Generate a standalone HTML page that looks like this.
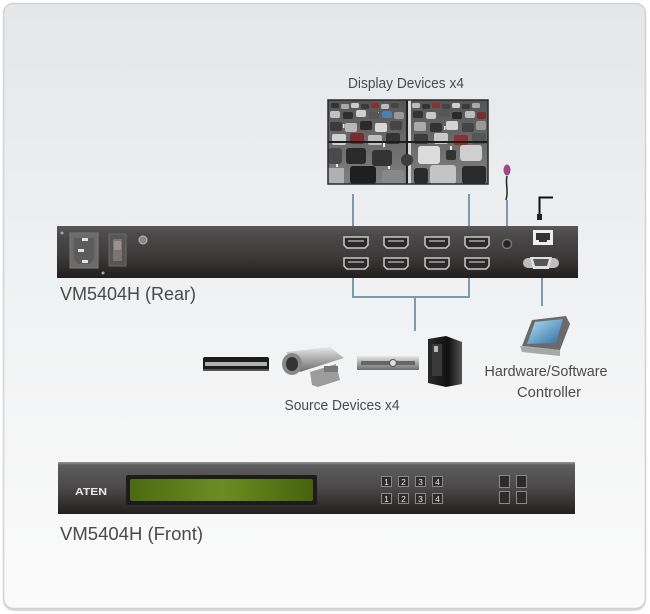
<!DOCTYPE html>
<html><head><meta charset="utf-8">
<style>
html,body{margin:0;padding:0;background:#fff;}
svg{display:block;}
text{font-family:"Liberation Sans","DejaVu Sans",sans-serif;fill:#4a4a4a;}
</style></head>
<body>
<svg width="650" height="614" viewBox="0 0 650 614" xmlns="http://www.w3.org/2000/svg">
<defs>
<linearGradient id="bg" x1="0" y1="0" x2="0" y2="1">
<stop offset="0" stop-color="#e5e6e8"/><stop offset="0.5" stop-color="#f1f2f3"/><stop offset="1" stop-color="#fbfbfb"/>
</linearGradient>
<linearGradient id="rear" x1="0" y1="0" x2="0" y2="1">
<stop offset="0" stop-color="#5a5959"/><stop offset="0.15" stop-color="#4c4a4a"/><stop offset="0.6" stop-color="#3c3939"/><stop offset="1" stop-color="#221e1e"/>
</linearGradient>
<linearGradient id="front" x1="0" y1="0" x2="0" y2="1">
<stop offset="0" stop-color="#9a9a9a"/><stop offset="0.06" stop-color="#5e5d5d"/><stop offset="0.5" stop-color="#4a4848"/><stop offset="1" stop-color="#231f1f"/>
</linearGradient>
<linearGradient id="lcd" x1="0" y1="0" x2="1" y2="0">
<stop offset="0" stop-color="#4c6a10"/><stop offset="0.5" stop-color="#6a8d22"/><stop offset="1" stop-color="#46630c"/>
</linearGradient>
<linearGradient id="silver" x1="0" y1="0" x2="0" y2="1">
<stop offset="0" stop-color="#e8e8e8"/><stop offset="0.5" stop-color="#a9a9a9"/><stop offset="1" stop-color="#6f6f6f"/>
</linearGradient>
<linearGradient id="road" x1="0" y1="0" x2="0" y2="1">
<stop offset="0" stop-color="#555"/><stop offset="0.5" stop-color="#6a6a6a"/><stop offset="1" stop-color="#808080"/>
</linearGradient>
<linearGradient id="pc" x1="0" y1="0" x2="1" y2="0">
<stop offset="0" stop-color="#2a2a2a"/><stop offset="0.6" stop-color="#111"/><stop offset="1" stop-color="#555"/>
</linearGradient>
<linearGradient id="scr" x1="0" y1="0" x2="1" y2="1">
<stop offset="0" stop-color="#b8e0f5"/><stop offset="1" stop-color="#2a6fa0"/>
</linearGradient>
</defs>

<!-- frame -->
<rect x="3" y="4" width="643" height="607" rx="11" fill="#d9d9d9"/>
<rect x="3.5" y="3.5" width="642" height="605" rx="10" fill="url(#bg)" stroke="#d2d2d2" stroke-width="1.5"/>

<!-- Display devices -->
<text x="406" y="88" font-size="14.5" text-anchor="middle" textLength="116" lengthAdjust="spacingAndGlyphs">Display Devices x4</text>
<g>
<rect x="328" y="100" width="160" height="84" fill="url(#road)"/>
<g fill="#e8e8e8">
<rect x="345" y="112" width="1" height="3"/><rect x="343" y="124" width="1.5" height="4"/><rect x="340" y="140" width="2" height="5"/><rect x="336" y="160" width="2" height="7"/>
<rect x="378" y="112" width="1" height="3"/><rect x="380" y="125" width="1.5" height="4"/><rect x="383" y="142" width="2" height="5"/><rect x="388" y="162" width="2" height="7"/>
<rect x="440" y="112" width="1" height="3"/><rect x="444" y="126" width="1.5" height="4"/><rect x="450" y="146" width="2" height="5"/>
</g>
<g>
<rect x="331" y="103" width="8" height="5" rx="1.5" fill="#333"/><rect x="341" y="104" width="8" height="5" rx="1.5" fill="#aaa"/><rect x="351" y="103" width="8" height="5" rx="1.5" fill="#ccc"/><rect x="361" y="104" width="8" height="5" rx="1.5" fill="#3a3a3a"/><rect x="371" y="103" width="8" height="5" rx="1.5" fill="#8a2e2e"/><rect x="381" y="104" width="8" height="5" rx="1.5" fill="#bbb"/><rect x="391" y="103" width="8" height="5" rx="1.5" fill="#444"/>
<rect x="330" y="111" width="10" height="7" rx="2" fill="#c2c2c2"/><rect x="343" y="112" width="10" height="7" rx="2" fill="#2e2e2e"/><rect x="356" y="110" width="10" height="7" rx="2" fill="#d0d0d0"/><rect x="369" y="112" width="10" height="7" rx="2" fill="#555"/><rect x="382" y="111" width="10" height="7" rx="2" fill="#4a7fb0"/><rect x="394" y="112" width="10" height="7" rx="2" fill="#999"/>
<rect x="330" y="122" width="12" height="9" rx="2" fill="#3a3a3a"/><rect x="345" y="123" width="12" height="9" rx="2" fill="#b8b8b8"/><rect x="360" y="121" width="12" height="9" rx="2" fill="#2a2a2a"/><rect x="375" y="123" width="12" height="9" rx="2" fill="#d8d8d8"/><rect x="390" y="121" width="12" height="9" rx="2" fill="#444"/>
<rect x="332" y="134" width="14" height="11" rx="2" fill="#d0d0d0"/><rect x="350" y="133" width="14" height="11" rx="2" fill="#7a2c2c"/><rect x="368" y="135" width="14" height="10" rx="2" fill="#bdbdbd"/><rect x="386" y="133" width="14" height="11" rx="2" fill="#333"/>
<rect x="328" y="148" width="14" height="16" rx="3" fill="#4a4a4a"/><rect x="346" y="148" width="20" height="16" rx="3" fill="#2a2a2a"/><rect x="372" y="150" width="20" height="16" rx="3" fill="#333"/>
<rect x="328" y="168" width="16" height="16" fill="#b0b0b0"/><rect x="350" y="166" width="26" height="18" rx="3" fill="#1f1f1f"/><rect x="382" y="170" width="22" height="14" rx="3" fill="#888"/>
<rect x="412" y="103" width="8" height="5" rx="1.5" fill="#bbb"/><rect x="422" y="104" width="8" height="5" rx="1.5" fill="#333"/><rect x="432" y="103" width="8" height="5" rx="1.5" fill="#8a3030"/><rect x="442" y="104" width="8" height="5" rx="1.5" fill="#444"/><rect x="452" y="103" width="8" height="5" rx="1.5" fill="#d0d0d0"/><rect x="462" y="104" width="8" height="5" rx="1.5" fill="#3a3a3a"/><rect x="472" y="103" width="8" height="5" rx="1.5" fill="#aaa"/>
<rect x="413" y="111" width="10" height="7" rx="2" fill="#333"/><rect x="426" y="112" width="10" height="7" rx="2" fill="#c8c8c8"/><rect x="439" y="110" width="10" height="7" rx="2" fill="#555"/><rect x="452" y="112" width="10" height="7" rx="2" fill="#2a2a2a"/><rect x="465" y="111" width="10" height="7" rx="2" fill="#bcbcbc"/><rect x="477" y="112" width="9" height="7" rx="2" fill="#7a2c2c"/>
<rect x="414" y="122" width="12" height="9" rx="2" fill="#aaa"/><rect x="430" y="123" width="12" height="9" rx="2" fill="#333"/><rect x="446" y="121" width="12" height="9" rx="2" fill="#d4d4d4"/><rect x="462" y="123" width="12" height="9" rx="2" fill="#444"/><rect x="476" y="121" width="10" height="9" rx="2" fill="#999"/>
<rect x="414" y="134" width="14" height="10" rx="2" fill="#3c3c3c"/><rect x="434" y="133" width="14" height="11" rx="2" fill="#c9c9c9"/><rect x="454" y="135" width="14" height="10" rx="2" fill="#8a3232"/><rect x="472" y="133" width="14" height="11" rx="2" fill="#555"/>
<rect x="418" y="146" width="22" height="18" rx="3" fill="#dcdcdc"/><rect x="446" y="150" width="10" height="10" rx="2" fill="#333"/><rect x="460" y="145" width="22" height="16" rx="3" fill="#cfcfcf"/>
<rect x="414" y="168" width="14" height="16" rx="3" fill="#2a2a2a"/><rect x="430" y="165" width="26" height="19" rx="3" fill="#c4c4c4"/><rect x="462" y="166" width="24" height="18" rx="3" fill="#2a2a2a"/>
</g>
<rect x="408" y="100" width="3" height="84" fill="#d8d8d8"/>
<rect x="328" y="141" width="160" height="2" fill="#1e1e1e"/>
<rect x="406" y="100" width="2" height="84" fill="#1e1e1e"/>
<circle cx="407" cy="160" r="6" fill="#3d3d3d"/>
<rect x="328" y="100" width="160" height="84" fill="none" stroke="#2a2a2a" stroke-width="1.5"/>
</g>

<!-- connector lines -->
<g stroke="#7b9bb0" stroke-width="2" fill="none">
<path d="M353 194 V226"/><path d="M469 194 V226"/>
<path d="M353 278 V297 H469 V278"/><path d="M415 297 V331"/>
<path d="M507 200 V238"/>
<path d="M542 268 V306"/>
</g>

<!-- mic -->
<path d="M507 176 C505 184 509 190 506 200" stroke="#2a2222" stroke-width="1.5" fill="none"/>
<ellipse cx="507" cy="170" rx="3.5" ry="5.5" fill="#9a4a86"/>
<!-- lan cable -->
<path d="M539.5 216 V197.5 H553" stroke="#111" stroke-width="2" fill="none"/>
<rect x="537" y="214" width="5" height="6" fill="#222"/>

<!-- rear panel -->
<rect x="57" y="226" width="521" height="52" fill="url(#rear)"/>
<circle cx="62" cy="233" r="1.5" fill="#aaa"/><circle cx="103" cy="273" r="1.5" fill="#aaa"/>
<rect x="70" y="233" width="28" height="35" fill="#6c6b6b" stroke="#7c7b7b"/>
<path d="M74 238 H94 V258 L90 264 H78 L74 258 Z" fill="#5c5b5b"/>
<rect x="82" y="238" width="6" height="3" fill="#e0e0e0"/><rect x="78" y="249" width="6" height="3" fill="#e0e0e0"/><rect x="82" y="260" width="6" height="3" fill="#e0e0e0"/>
<rect x="109" y="234" width="17" height="32" fill="#555" stroke="#6a6a6a"/>
<rect x="113" y="239" width="9" height="22" fill="#7a7474"/><rect x="114" y="241" width="7" height="9" fill="#9a9090"/>
<circle cx="143" cy="240" r="4" fill="#888" stroke="#bbb"/>
<g fill="#2a2828" stroke="#c8c8c8" stroke-width="1.5">
<path d="M344 237 H368 V245 L365 248 H347 L344 245 Z"/><path d="M384 237 H408 V245 L405 248 H387 L384 245 Z"/><path d="M425 237 H449 V245 L446 248 H428 L425 245 Z"/><path d="M465 237 H489 V245 L486 248 H468 L465 245 Z"/>
<path d="M344 258 H368 V266 L365 269 H347 L344 266 Z"/><path d="M384 258 H408 V266 L405 269 H387 L384 266 Z"/><path d="M425 258 H449 V266 L446 269 H428 L425 266 Z"/><path d="M465 258 H489 V266 L486 269 H468 L465 266 Z"/>
</g>
<g fill="#888"><rect x="348" y="240" width="16" height="2"/><rect x="388" y="240" width="16" height="2"/><rect x="429" y="240" width="16" height="2"/><rect x="469" y="240" width="16" height="2"/>
<rect x="348" y="261" width="16" height="2"/><rect x="388" y="261" width="16" height="2"/><rect x="429" y="261" width="16" height="2"/><rect x="469" y="261" width="16" height="2"/></g>
<circle cx="507" cy="244" r="4.5" fill="#222" stroke="#777" stroke-width="1.5"/>
<rect x="533" y="230" width="20" height="15" fill="#eee"/><path d="M536 233 H550 V240 H547 V242 H539 V240 H536 Z" fill="#333"/>
<rect x="523" y="258" width="36" height="10" rx="5" fill="#bdbdbd"/>
<path d="M530 257 H552 L549 269 H533 Z" fill="#e0e0e0"/><path d="M533 259 H549 L547 266 H535 Z" fill="#555"/>
<text x="60" y="300" font-size="18" textLength="136" lengthAdjust="spacingAndGlyphs">VM5404H (Rear)</text>

<!-- controller -->
<g>
<path d="M522 346 L532 320 L566 316 L570 324 L560 350 Z" fill="#6a6a6a"/>
<path d="M527 344 L535 322 L563 319 L556 343 Z" fill="url(#scr)"/>
<path d="M520 346 L560 350 L560 356 L522 352 Z" fill="#a8a8a8"/>
</g>
<text x="546" y="376" font-size="15" text-anchor="middle" textLength="123" lengthAdjust="spacingAndGlyphs">Hardware/Software</text>
<text x="549" y="397" font-size="15" text-anchor="middle" textLength="64" lengthAdjust="spacingAndGlyphs">Controller</text>

<!-- source devices -->
<g>
<rect x="203" y="357" width="66" height="14" rx="2" fill="#1c1c1c"/>
<rect x="205" y="362" width="62" height="4" fill="#b0b0b0"/>
<rect x="203" y="369" width="66" height="2" fill="#555"/>
<path d="M286 352 L330 347 L344 358 L300 372 Z" fill="url(#silver)"/>
<ellipse cx="292" cy="364" rx="10" ry="11" fill="#888"/><ellipse cx="292" cy="364" rx="6" ry="7" fill="#333"/>
<path d="M310 372 L336 364 L340 380 L318 387 L312 385 Z" fill="#9c9c9c"/>
<rect x="324" y="366" width="14" height="6" fill="#777"/>
<rect x="357" y="356" width="62" height="14" fill="url(#silver)"/>
<rect x="361" y="361" width="54" height="4" fill="#666"/>
<circle cx="393" cy="363" r="3.5" fill="#ddd" stroke="#555"/>
<path d="M428 339 L446 336 L462 342 L462 384 L446 387 L428 383 Z" fill="url(#pc)"/>
<rect x="432" y="344" width="10" height="32" fill="#3a3a3a"/>
<rect x="434" y="346" width="4" height="6" fill="#bbb"/>
</g>
<text x="342" y="410" font-size="15" text-anchor="middle" textLength="115" lengthAdjust="spacingAndGlyphs">Source Devices x4</text>

<!-- front panel -->
<rect x="58" y="462" width="517" height="52" fill="url(#front)"/>
<text x="75" y="495" font-size="10" font-weight="bold" style="fill:#e8e8e8" textLength="32" lengthAdjust="spacingAndGlyphs">ATEN</text>
<rect x="126" y="475" width="191" height="30" rx="2" fill="#1d1b1b"/>
<rect x="130" y="479" width="183" height="22" rx="2" fill="url(#lcd)"/>
<g fill="#2c2a2a" stroke="#888" stroke-width="1">
<rect x="381.5" y="476.5" width="10" height="10"/><rect x="398.5" y="476.5" width="10" height="10"/><rect x="415.5" y="476.5" width="10" height="10"/><rect x="432.5" y="476.5" width="10" height="10"/>
<rect x="381.5" y="493.5" width="10" height="10"/><rect x="398.5" y="493.5" width="10" height="10"/><rect x="415.5" y="493.5" width="10" height="10"/><rect x="432.5" y="493.5" width="10" height="10"/>
<rect x="499.5" y="475.5" width="10" height="12"/><rect x="516.5" y="475.5" width="10" height="12"/>
<rect x="499.5" y="491.5" width="10" height="12"/><rect x="516.5" y="491.5" width="10" height="12"/>
</g>
<g font-size="8.5" text-anchor="middle">
<text x="386.5" y="485" style="fill:#e6e6e6">1</text><text x="403.5" y="485" style="fill:#e6e6e6">2</text><text x="420.5" y="485" style="fill:#e6e6e6">3</text><text x="437.5" y="485" style="fill:#e6e6e6">4</text>
<text x="386.5" y="502" style="fill:#e6e6e6">1</text><text x="403.5" y="502" style="fill:#e6e6e6">2</text><text x="420.5" y="502" style="fill:#e6e6e6">3</text><text x="437.5" y="502" style="fill:#e6e6e6">4</text>
</g>
<text x="60" y="540" font-size="18" textLength="143" lengthAdjust="spacingAndGlyphs">VM5404H (Front)</text>
</svg>
</body></html>
